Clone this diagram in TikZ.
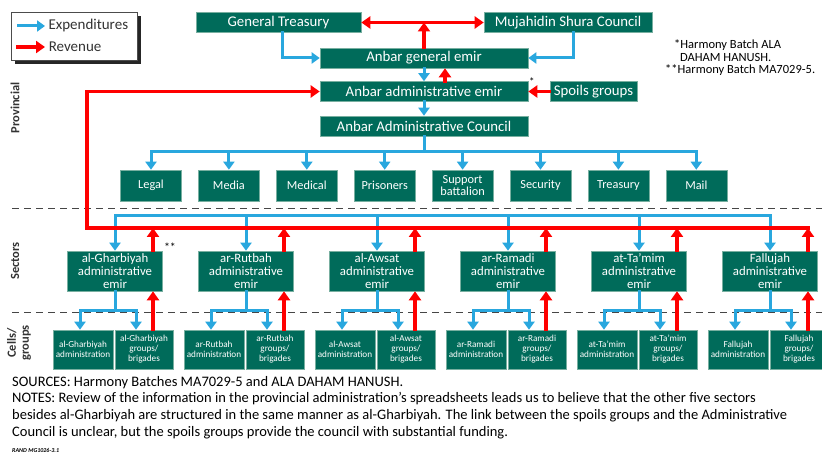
\documentclass[tikz,border=0pt]{standalone}
\usepackage{fontspec}
\setmainfont{Carlito}
\usetikzlibrary{arrows.meta}
\definecolor{boxgreen}{RGB}{0,107,90}
\definecolor{boxedge}{RGB}{120,175,160}
\definecolor{expblue}{RGB}{41,167,222}
\definecolor{revred}{RGB}{255,0,0}
\definecolor{dashgray}{RGB}{70,70,70}
\begin{document}
\begin{tikzpicture}[x=1pt, y=-1pt,
  box/.style={draw=boxedge, line width=0.6pt, fill=boxgreen, text=white, inner sep=0pt, align=center},
  topbox/.style={box, minimum height=20pt, font=\fontsize{14.8}{16}\selectfont},
  deptbox/.style={box, minimum width=61pt, minimum height=31pt, font=\fontsize{12.3}{12.5}\selectfont},
  secbox/.style={box, minimum width=95pt, minimum height=40pt, font=\fontsize{12.8}{13}\selectfont},
  cellbox/.style={box, minimum height=39pt, font=\fontsize{9.2}{10}\selectfont},
  expline/.style={draw=expblue, line width=3pt, line cap=rect},
  exp/.style={expline, -{Triangle[width=11pt,length=8pt]}},
  revline/.style={draw=revred, line width=3.5pt, line cap=rect},
  rev/.style={revline, -{Triangle[width=12pt,length=9pt]}},
  layer/.style={rotate=90, text=black!80, align=center, font=\fontsize{12.5}{13}\selectfont\bfseries},
  note/.style={anchor=west, inner sep=0pt, font=\fontsize{12.5}{13}\selectfont},
  foot/.style={inner sep=0pt, font=\fontsize{14.5}{17}\selectfont}]
  \useasboundingbox (0,0) rectangle (822,454);
  % 图例
  \fill[black!85] (15,16) rectangle (141,64);
  \draw[black!70, fill=white, line width=0.8pt] (11,12) rectangle (137,60);
  \coordinate (lgA) at (18,26);
  \coordinate (lgB) at (18,47);
  \draw[exp] (lgA) -- ++(27,0) node[right, inner sep=2pt, text=black!80, font=\fontsize{15}{15}\selectfont] (lgexp) {Expenditures};
  \draw[rev] (lgB) -- ++(27,0) node[right, inner sep=2pt, text=black!80, font=\fontsize{15}{15}\selectfont] (lgrev) {Revenue};
  % 层级标签与虚线
  \node[layer] (lprov) at (15,108) {Provincial};
  \node[layer] (lsec) at (15,261) {Sectors};
  \node[layer] (lcell) at (19,343) {Cells/\\groups};
  \draw[dashgray, line width=1pt, dash pattern=on 7pt off 5pt] (12,209) -- (822,209);
  \draw[dashgray, line width=1pt, dash pattern=on 7pt off 5pt] (12,313) -- (822,313);
  % 省级
  \node[topbox, minimum width=165pt] (gt) at (278.5,22.5) {General Treasury};
  \node[topbox, minimum width=168pt] (msc) at (568,22.5) {Mujahidin Shura Council};
  \node[topbox, minimum width=208pt] (age) at (424,58) {Anbar general emir};
  \node[topbox, minimum width=208pt] (aae) at (424,91.5) {Anbar administrative emir};
  \node[topbox, minimum width=87pt] (spoils) at (593.5,91.5) {Spoils groups};
  \node[topbox, minimum width=208pt] (aac) at (424,126) {Anbar Administrative Council};
  \node[anchor=west, inner sep=0.5pt, font=\fontsize{11}{12}\selectfont] (star) at (aae.north east) {*};
  \draw[exp] ([xshift=4]gt.south) |- (age.west);
  \draw[exp] ([xshift=5]msc.south) |- (age.east);
  \draw[rev, {Triangle[width=12pt,length=9pt]}-{Triangle[width=12pt,length=9pt]}] (gt.east) -- (msc.west);
  \draw[rev] (age.north) -- (age.north |- gt.east);
  \draw[exp] (age.south) -- (aae.north);
  \draw[rev] ([xshift=21]aae.north) -- ([xshift=21]age.south);
  \draw[rev] (spoils.west) -- (aae.east);
  \draw[exp] (aae.south) -- (aac.north);
  % 部门
  \coordinate (dbus) at (0,152);
  \foreach \t [count=\i from 0] in {Legal,Media,Medical,Prisoners,Support\\battalion,Security,Treasury,Mail}{
    \node[deptbox] (d\i) at (151+77.9*\i,185.5) {\t};
    \draw[exp] (d\i.north |- dbus) -- (d\i.north);
  }
  \draw[expline] (aac.south) -- (aac.south |- dbus);
  \draw[expline] (d0.north |- dbus) -- (d7.north |- dbus);
  % 分区与小组
  \coordinate (sbus) at (0,216);
  \coordinate (rbus) at (0,228);
  \foreach \t [count=\i from 0] in {al-Gharbiyah,ar-Rutbah,al-Awsat,ar-Ramadi,at-Ta’mim,Fallujah}{
    \pgfmathsetmacro\c{115+131*\i}
    \node[secbox] (s\i) at (\c,271) {\t\\administrative\\emir};
    \node[cellbox, minimum width=60pt] (a\i) at (\c-32,349.5) {\t\\administration};
    \node[cellbox, minimum width=58pt] (g\i) at (\c+29,349.5) {\t\\groups/\\brigades};
    \coordinate (rt\i) at ([xshift=38]s\i.north);
    \coordinate (rb\i) at ([xshift=9]g\i.north);
    \draw[exp] (s\i.north |- sbus) -- (s\i.north);
    \draw[rev] (rt\i) -- (rt\i |- rbus);
    \draw[exp] (s\i.south) -- ++(0,19) -| ([xshift=-3]a\i.north);
    \draw[exp] (s\i.south) -- ++(0,19) -| ([xshift=-8]g\i.north);
    \draw[rev] (rb\i) -- (rb\i |- s\i.south);
  }
  \draw[expline] (s0.north |- sbus) -- (s5.north |- sbus);
  \coordinate (rcorner) at (87,228);
  \draw[rev] (rt5 |- rbus) -- (rcorner) |- (aae.west);
  \node[anchor=west, inner sep=1pt, font=\fontsize{12}{12}\selectfont] (dstar) at ([yshift=3]s0.north east) {**};
  % 注释
  \node[note] (n1) at (674,45) {*Harmony Batch ALA};
  \node[note] (n2) at (680,57.5) {DAHAM HANUSH.};
  \node[note] (n3) at (665,70) {**Harmony Batch MA7029-5.};
  \node[foot, anchor=west] (sources) at (12,383) {SOURCES: Harmony Batches MA7029-5 and ALA DAHAM HANUSH.};
  \node[foot, anchor=north west, align=left] (notes) at (12,392) {NOTES: Review of the information in the provincial administration’s spreadsheets leads us to believe that the other five sectors\\besides al-Gharbiyah are structured in the same manner as al-Gharbiyah. The link between the spoils groups and the Administrative\\Council is unclear, but the spoils groups provide the council with substantial funding.};
  \node[anchor=west, inner sep=0pt, font=\fontsize{6}{7}\selectfont\bfseries\itshape] (rand) at (12,450) {RAND MG1026-3.1};
\end{tikzpicture}
\end{document}
